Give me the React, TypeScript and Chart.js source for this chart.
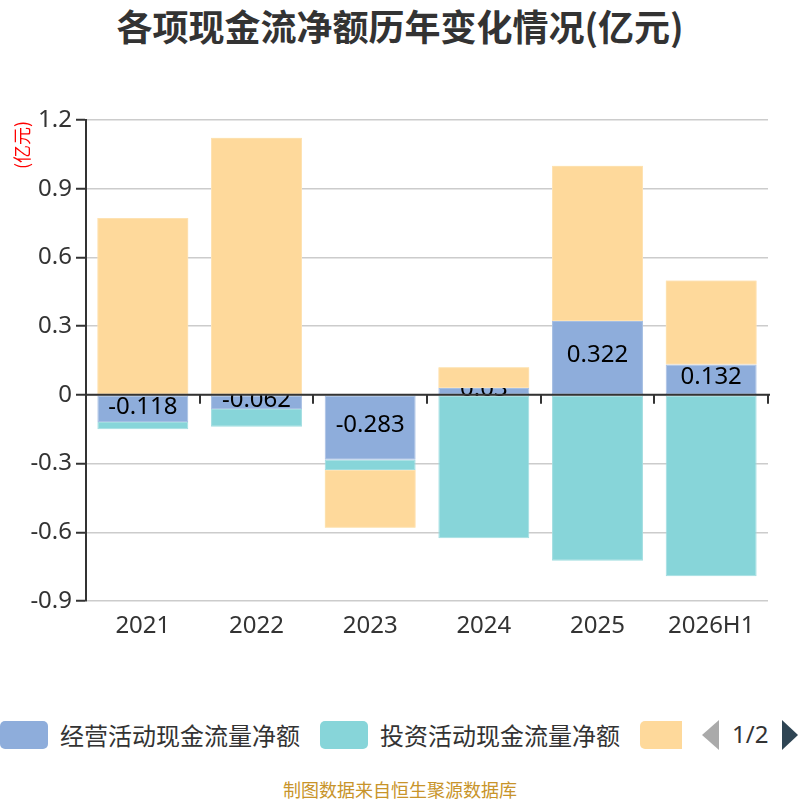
import { useEffect, useRef } from "react";
import { Chart, registerables } from "chart.js";

Chart.register(...registerables);

const categories = ["2021", "2022", "2023", "2024", "2025", "2026H1"];
const operating = [-0.118, -0.062, -0.283, 0.03, 0.322, 0.132];
const investing = [-0.032, -0.077, -0.045, -0.626, -0.724, -0.792];
const financing = [0.772, 1.122, -0.252, 0.09, 0.678, 0.367];
const seriesNames = ["经营活动现金流量净额", "投资活动现金流量净额", "筹资活动现金流量净额"];
const yTicks = [-0.9, -0.6, -0.3, 0, 0.3, 0.6, 0.9, 1.2];

const colors = ["#8eaddb", "#87d5d9", "#fed99b"];
const edgeColors = ["#a6bfe3", "#a0dde0", "#fee2b2"];
const numFont = "'Noto Sans', 'DejaVu Sans', sans-serif";
const cjkFont = "'Noto Sans CJK SC', 'Noto Sans', sans-serif";

const overlay = {
  id: "overlay",
  afterDatasetsDraw(chart: any) {
    const { ctx, chartArea, scales } = chart;
    const y0 = scales.y.getPixelForValue(0);

    // labels of the first series, then the third series over them
    ctx.save();
    ctx.font = `24px ${numFont}`;
    ctx.fillStyle = "#000";
    ctx.textAlign = "center";
    ctx.textBaseline = "middle";
    chart.getDatasetMeta(0).data.forEach((el: any, i: number) => {
      const p = el.getCenterPoint();
      ctx.fillText(String(operating[i]), p.x, p.y - 2);
    });
    ctx.restore();
    chart.getDatasetMeta(2).data.forEach((el: any) => el.draw(ctx));

    // zero axis with ticks
    ctx.save();
    ctx.strokeStyle = "#333";
    ctx.lineWidth = 2;
    ctx.beginPath();
    ctx.moveTo(chartArea.left, y0);
    ctx.lineTo(chartArea.right + 2, y0);
    const step = (chartArea.right - chartArea.left) / categories.length;
    for (let i = 0; i <= categories.length; i++) {
      const bx = Math.round(chartArea.left + i * step);
      ctx.moveTo(bx, y0);
      ctx.lineTo(bx, y0 + 9);
    }
    ctx.stroke();
    ctx.restore();
  },
  afterDraw(chart: any) {
    const { ctx, scales } = chart;
    ctx.save();
    ctx.font = `24px ${numFont}`;
    ctx.fillStyle = "#333";
    ctx.textBaseline = "middle";
    ctx.textAlign = "center";
    categories.forEach((c, i) => {
      ctx.fillText(c, scales.x.getPixelForValue(i), 626);
    });
    ctx.textAlign = "right";
    yTicks.forEach((v) => {
      ctx.fillText(String(Number(v.toFixed(1))), 72, scales.y.getPixelForValue(v));
    });
    ctx.translate(22, 145);
    ctx.rotate(-Math.PI / 2);
    ctx.textAlign = "center";
    ctx.fillStyle = "#ff0000";
    ctx.font = `18px ${cjkFont}`;
    ctx.fillText("(亿元)", 0, 0);
    ctx.restore();
  }
};

const CashFlowChart = () => {
  const canvasRef = useRef<HTMLCanvasElement | null>(null);
  const chartRef = useRef<Chart | null>(null);

  useEffect(() => {
    if (!canvasRef.current) return;
    const ctx = canvasRef.current.getContext("2d");
    if (!ctx) return;

    const bar = {
      borderWidth: 1,
      borderSkipped: false,
      barPercentage: 0.8,
      categoryPercentage: 1,
      stack: "s"
    };

    chartRef.current = new Chart(ctx, {
      type: "bar",
      data: {
        labels: categories,
        datasets: [
          { label: seriesNames[0], data: operating, backgroundColor: colors[0], borderColor: edgeColors[0], ...bar },
          { label: seriesNames[1], data: investing, backgroundColor: colors[1], borderColor: edgeColors[1], ...bar },
          { label: seriesNames[2], data: financing, backgroundColor: colors[2], borderColor: edgeColors[2], ...bar }
        ]
      },
      options: {
        animation: false,
        responsive: false,
        maintainAspectRatio: false,
        layout: { padding: { left: 0, top: 120, right: 32, bottom: 0 } },
        plugins: {
          legend: { display: false },
          tooltip: { enabled: false },
          title: { display: false }
        },
        scales: {
          x: {
            stacked: true,
            grid: { display: false },
            border: { display: false },
            ticks: { display: false },
            afterFit: (s: any) => {
              s.height = 59;
            }
          },
          y: {
            stacked: true,
            min: -0.9,
            max: 1.2,
            afterBuildTicks: (s: any) => {
              s.ticks = yTicks.map((v) => ({ value: v }));
            },
            grid: {
              color: "#cccccc",
              lineWidth: 1.5,
              drawTicks: true,
              tickLength: 10,
              tickColor: "#333",
              tickWidth: 2
            },
            border: { display: true, color: "#333", width: 2 },
            ticks: { display: false },
            afterFit: (s: any) => {
              s.width = 86;
            }
          }
        }
      },
      plugins: [overlay]
    });

    return () => {
      chartRef.current?.destroy();
    };
  }, []);

  return <canvas ref={canvasRef} width={800} height={660} style={{ position: "absolute", left: 0, top: 0 }} />;
};

const box = (left: number, color: string, width = 48, radius = "5px") => (
  <div
    style={{
      position: "absolute",
      left,
      top: 0,
      width,
      height: 28,
      background: color,
      borderRadius: radius
    }}
  />
);

const App = () => {
  return (
    <div style={{ position: "absolute", left: 0, top: 0, width: 800, height: 800, background: "#fff", overflow: "hidden" }}>
      <div
        style={{
          position: "absolute",
          top: 5,
          left: 0,
          width: 800,
          textAlign: "center",
          fontFamily: cjkFont,
          fontWeight: "bold",
          fontSize: 36,
          lineHeight: "40px",
          color: "#333"
        }}
      >
        各项现金流净额历年变化情况(亿元)
      </div>
      <CashFlowChart />
      <div
        style={{
          position: "absolute",
          top: 721,
          left: 0,
          width: 800,
          height: 28,
          fontFamily: cjkFont,
          fontSize: 24,
          lineHeight: "28px",
          color: "#333"
        }}
      >
        {box(0, colors[0])}
        <span style={{ position: "absolute", left: 60, top: 0, whiteSpace: "nowrap" }}>{seriesNames[0]}</span>
        {box(320, colors[1])}
        <span style={{ position: "absolute", left: 380, top: 0, whiteSpace: "nowrap" }}>{seriesNames[1]}</span>
        {box(640, colors[2], 42, "5px 0 0 5px")}
        <div
          style={{
            position: "absolute",
            left: 702,
            top: -1,
            width: 0,
            height: 0,
            borderTop: "15px solid transparent",
            borderBottom: "15px solid transparent",
            borderRight: "17px solid #aaaaaa"
          }}
        />
        <span style={{ position: "absolute", left: 732, top: -1, fontFamily: numFont, whiteSpace: "nowrap" }}>1/2</span>
        <div
          style={{
            position: "absolute",
            left: 782,
            top: -1,
            width: 0,
            height: 0,
            borderTop: "15px solid transparent",
            borderBottom: "15px solid transparent",
            borderLeft: "16px solid #2f4554"
          }}
        />
      </div>
      <div
        style={{
          position: "absolute",
          top: 779,
          left: 0,
          width: 800,
          textAlign: "center",
          fontFamily: cjkFont,
          fontSize: 18,
          lineHeight: "20px",
          color: "#c8942a"
        }}
      >
        制图数据来自恒生聚源数据库
      </div>
    </div>
  );
};

export default App;
